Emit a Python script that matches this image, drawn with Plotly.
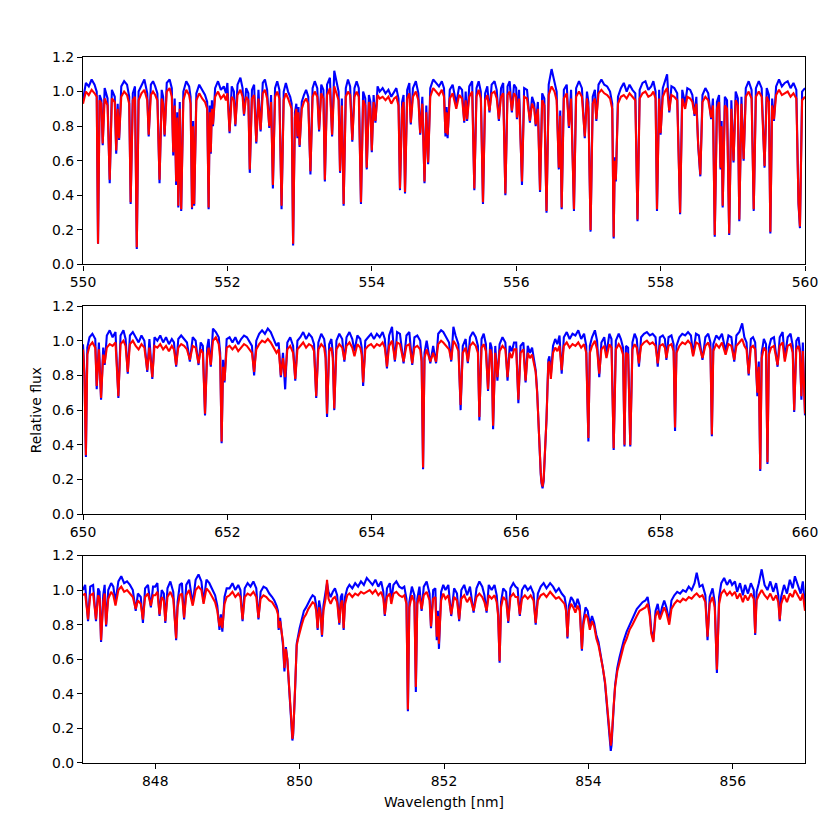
import plotly.graph_objects as go
from plotly.subplots import make_subplots

# ---- panel 1: 550-560 nm ----
wave_top = [
    550.00, 550.04, 550.08, 550.12, 550.16, 550.19, 550.208, 550.23, 550.255, 550.273, 550.30, 550.34, 550.37, 550.40, 550.44, 550.46, 550.48, 550.50, 550.53, 550.57, 550.61, 550.64, 550.66, 550.69, 550.72, 550.745, 550.77, 550.81, 550.85, 550.89, 550.91, 550.94, 550.97,
    551.00, 551.03, 551.06, 551.09, 551.11, 551.13, 551.16, 551.20, 551.23, 551.25, 551.27, 551.29, 551.305, 551.32, 551.34, 551.36, 551.39, 551.43, 551.47, 551.49, 551.51, 551.525, 551.54, 551.57, 551.61, 551.65, 551.69, 551.72, 551.74, 551.755, 551.77, 551.785, 551.80, 551.83, 551.87, 551.91, 551.95, 551.98,
    552.00, 552.03, 552.06, 552.09, 552.11, 552.14, 552.18, 552.21, 552.23, 552.26, 552.29, 552.31, 552.34, 552.37, 552.40, 552.43, 552.46, 552.49, 552.52, 552.55, 552.58, 552.605, 552.63, 552.66, 552.69, 552.72, 552.75, 552.78, 552.81, 552.84, 552.87, 552.89, 552.91, 552.935, 552.955, 552.97, 552.985,
    553.00, 553.03, 553.06, 553.09, 553.12, 553.15, 553.18, 553.21, 553.245, 553.27, 553.30, 553.33, 553.35, 553.38, 553.42, 553.45, 553.48, 553.51, 553.54, 553.56, 553.585, 553.61, 553.64, 553.67, 553.70, 553.73, 553.76, 553.79, 553.82, 553.85, 553.88, 553.91, 553.93, 553.96, 553.98,
    554.00, 554.025, 554.05, 554.08, 554.11, 554.15, 554.19, 554.23, 554.27, 554.31, 554.34, 554.37, 554.39, 554.42, 554.44, 554.46, 554.49, 554.52, 554.54, 554.57, 554.61, 554.645, 554.67, 554.70, 554.73, 554.755, 554.78, 554.81, 554.85, 554.89, 554.93, 554.97,
    555.00, 555.02, 555.035, 555.05, 555.08, 555.12, 555.17, 555.21, 555.25, 555.28, 555.30, 555.32, 555.35, 555.39, 555.42, 555.45, 555.48, 555.51, 555.54, 555.57, 555.60, 555.63, 555.66, 555.70, 555.73, 555.76, 555.79, 555.82, 555.85, 555.88, 555.91, 555.94, 555.97,
    556.00, 556.01, 556.04, 556.08, 556.11, 556.15, 556.19, 556.22, 556.25, 556.27, 556.30, 556.33, 556.36, 556.39, 556.42, 556.45, 556.49, 556.53, 556.56, 556.59, 556.61, 556.63, 556.66, 556.70, 556.73, 556.76, 556.80, 556.83, 556.87, 556.91, 556.95, 556.98,
    557.00, 557.03, 557.06, 557.09, 557.11, 557.14, 557.18, 557.22, 557.26, 557.30, 557.33, 557.35, 557.365, 557.38, 557.41, 557.45, 557.49, 557.53, 557.57, 557.61, 557.65, 557.68, 557.71, 557.75, 557.79, 557.83, 557.87, 557.90, 557.93, 557.95, 557.98,
    558.00, 558.03, 558.06, 558.09, 558.12, 558.15, 558.19, 558.23, 558.27, 558.30, 558.34, 558.37, 558.41, 558.44, 558.47, 558.495, 558.52, 558.55, 558.58, 558.62, 558.66, 558.70, 558.725, 558.75, 558.78, 558.81, 558.83, 558.845, 558.86, 558.89, 558.92, 558.95, 558.98,
    559.01, 559.04, 559.07, 559.09, 559.12, 559.15, 559.18, 559.22, 559.26, 559.29, 559.32, 559.36, 559.40, 559.44, 559.47, 559.50, 559.52, 559.545, 559.57, 559.60, 559.64, 559.68, 559.72, 559.76, 559.80, 559.84, 559.88, 559.91, 559.93, 559.96, 560.00,
]
model_top = [
    0.93, 1.00, 0.98, 1.01, 0.99, 0.97, 0.12, 0.95, 0.93, 0.70, 0.96, 0.92, 0.49, 0.96, 0.94, 0.66, 0.90, 0.73, 0.97, 1.00, 0.98, 0.93, 0.36, 0.95, 0.97, 0.10, 0.95, 0.99, 1.01, 0.95, 0.75, 0.98, 1.00,
    0.98, 0.95, 0.49, 0.96, 0.93, 0.75, 1.00, 1.02, 0.97, 0.65, 0.92, 0.48, 0.85, 0.34, 0.90, 0.32, 0.95, 1.01, 0.98, 0.93, 0.33, 0.80, 0.35, 0.95, 0.99, 0.96, 0.94, 0.90, 0.33, 0.88, 0.65, 0.90, 0.81, 0.97, 1.00, 0.96, 0.98, 0.95,
    0.99, 0.77, 0.97, 0.95, 0.81, 0.98, 1.01, 0.97, 0.87, 0.97, 0.95, 0.55, 0.96, 0.98, 0.71, 0.96, 0.78, 0.99, 1.01, 0.96, 0.80, 0.94, 0.46, 0.97, 1.00, 0.96, 0.34, 0.95, 0.99, 0.96, 0.93, 0.90, 0.12, 0.85, 0.90, 0.74, 0.88,
    0.69, 0.90, 0.94, 0.96, 0.93, 0.54, 0.97, 1.00, 0.97, 0.78, 0.99, 0.96, 0.49, 0.98, 1.02, 0.75, 1.03, 0.99, 0.95, 0.54, 0.92, 0.35, 0.97, 1.00, 0.98, 0.72, 0.97, 1.00, 0.97, 0.36, 0.95, 0.92, 0.56, 0.94, 0.90,
    0.66, 0.94, 0.83, 0.98, 0.96, 0.97, 0.95, 0.97, 0.93, 0.96, 0.97, 0.92, 0.44, 0.90, 0.94, 0.42, 0.96, 0.99, 0.82, 0.97, 1.00, 0.95, 0.76, 0.93, 0.48, 0.88, 0.59, 0.97, 1.02, 1.00, 0.98, 1.01,
    0.97, 0.76, 0.88, 0.75, 0.96, 0.99, 0.90, 0.98, 0.96, 0.83, 0.95, 0.84, 0.97, 1.00, 0.44, 0.97, 1.01, 0.96, 0.36, 0.95, 0.98, 0.89, 0.99, 1.00, 0.96, 0.84, 0.97, 0.99, 0.41, 0.98, 1.00, 0.89, 0.99,
    0.97, 0.85, 0.96, 0.48, 0.97, 0.96, 0.83, 0.93, 0.90, 0.81, 0.90, 0.43, 0.95, 0.92, 0.31, 0.98, 1.03, 1.00, 0.95, 0.56, 0.86, 0.33, 0.96, 0.99, 0.80, 0.96, 0.32, 0.97, 1.00, 0.97, 0.74, 0.96,
    0.90, 0.20, 0.93, 0.96, 0.84, 0.99, 1.01, 0.99, 0.98, 0.96, 0.90, 0.16, 0.60, 0.49, 0.93, 0.97, 0.98, 0.96, 0.99, 0.97, 0.95, 0.26, 0.96, 0.99, 1.00, 0.97, 0.98, 1.00, 0.96, 0.32, 0.96,
    0.76, 0.97, 1.00, 1.02, 0.89, 0.98, 0.97, 0.95, 0.30, 0.96, 0.90, 0.97, 0.96, 0.94, 0.87, 0.93, 0.70, 0.52, 0.94, 0.97, 0.95, 0.85, 0.92, 0.17, 0.90, 0.94, 0.56, 0.80, 0.34, 0.92, 0.90, 0.18, 0.90,
    0.60, 0.95, 0.92, 0.26, 0.93, 0.61, 0.97, 1.00, 0.96, 0.32, 0.97, 1.00, 0.97, 0.57, 0.97, 0.94, 0.19, 0.92, 0.84, 0.98, 1.01, 0.98, 0.99, 1.00, 0.97, 0.99, 0.96, 0.36, 0.22, 0.95, 0.97,
]
obs_top = [
    0.95, 1.05, 1.03, 1.07, 1.04, 1.00, 0.12, 0.98, 0.95, 0.69, 1.02, 0.96, 0.47, 1.01, 0.97, 0.64, 0.93, 0.72, 1.03, 1.06, 1.04, 0.97, 0.35, 0.99, 1.03, 0.09, 1.00, 1.04, 1.07, 0.99, 0.74, 1.04, 1.06,
    1.03, 0.99, 0.47, 1.01, 0.97, 0.74, 1.05, 1.07, 1.02, 0.63, 0.96, 0.46, 0.88, 0.33, 0.94, 0.31, 1.00, 1.06, 1.03, 0.97, 0.32, 0.83, 0.34, 0.99, 1.04, 1.01, 0.98, 0.94, 0.32, 0.92, 0.64, 0.95, 0.80, 1.02, 1.06, 1.01, 1.03, 0.99,
    1.05, 0.76, 1.03, 1.00, 0.80, 1.04, 1.08, 1.02, 0.86, 1.02, 0.99, 0.53, 1.01, 1.04, 0.70, 1.01, 0.77, 1.05, 1.07, 1.01, 0.79, 0.98, 0.44, 1.02, 1.06, 1.01, 0.32, 1.00, 1.05, 1.00, 0.97, 0.93, 0.11, 0.88, 0.93, 0.73, 0.91,
    0.68, 0.94, 0.98, 1.01, 0.97, 0.52, 1.02, 1.06, 1.02, 0.77, 1.04, 1.01, 0.48, 1.04, 1.08, 0.74, 1.12, 1.05, 1.00, 0.53, 0.96, 0.34, 1.02, 1.07, 1.03, 0.71, 1.02, 1.06, 1.02, 0.35, 1.00, 0.96, 0.55, 0.98, 0.94,
    0.65, 0.98, 0.82, 1.03, 1.00, 1.02, 0.99, 1.01, 0.97, 1.00, 1.02, 0.96, 0.43, 0.94, 0.98, 0.41, 1.01, 1.05, 0.81, 1.02, 1.06, 0.99, 0.75, 0.97, 0.47, 0.92, 0.58, 1.02, 1.07, 1.05, 1.03, 1.06,
    1.02, 0.74, 0.91, 0.73, 1.01, 1.04, 0.93, 1.03, 1.01, 0.82, 1.00, 0.83, 1.03, 1.06, 0.43, 1.02, 1.06, 1.00, 0.35, 0.99, 1.03, 0.88, 1.04, 1.06, 1.01, 0.83, 1.02, 1.05, 0.40, 1.03, 1.06, 0.88, 1.04,
    1.02, 0.84, 1.01, 0.46, 1.02, 1.01, 0.82, 0.97, 0.93, 0.80, 0.94, 0.42, 0.99, 0.96, 0.30, 1.04, 1.13, 1.06, 1.00, 0.55, 0.89, 0.32, 1.01, 1.04, 0.79, 1.01, 0.31, 1.02, 1.06, 1.02, 0.73, 1.00,
    0.94, 0.19, 0.97, 1.01, 0.83, 1.04, 1.07, 1.04, 1.03, 1.00, 0.93, 0.15, 0.62, 0.48, 0.97, 1.02, 1.05, 1.00, 1.04, 1.01, 0.99, 0.25, 1.01, 1.05, 1.06, 1.01, 1.03, 1.06, 1.00, 0.31, 1.01,
    0.75, 1.02, 1.06, 1.10, 0.88, 1.03, 1.02, 0.99, 0.29, 1.01, 0.93, 1.02, 1.01, 0.98, 0.86, 0.97, 0.69, 0.51, 0.98, 1.02, 0.99, 0.84, 0.96, 0.16, 0.94, 0.98, 0.55, 0.83, 0.33, 0.97, 0.95, 0.17, 0.95,
    0.59, 1.00, 0.96, 0.25, 0.97, 0.60, 1.02, 1.06, 1.01, 0.31, 1.02, 1.06, 1.02, 0.56, 1.02, 0.98, 0.18, 0.96, 0.83, 1.03, 1.07, 1.03, 1.05, 1.06, 1.02, 1.05, 1.01, 0.35, 0.21, 1.00, 1.02,
]

# ---- panel 2: 650-660 nm (H-alpha) ----
wave_mid = [
    650.00, 650.02, 650.04, 650.06, 650.09, 650.13, 650.17, 650.19, 650.22, 650.25, 650.28, 650.30, 650.33, 650.37, 650.41, 650.45, 650.49, 650.52, 650.56, 650.59, 650.62, 650.65, 650.69, 650.73, 650.77, 650.81, 650.85, 650.89, 650.92, 650.96, 650.99,
    651.03, 651.07, 651.11, 651.15, 651.19, 651.23, 651.26, 651.29, 651.32, 651.36, 651.40, 651.44, 651.48, 651.52, 651.56, 651.60, 651.63, 651.66, 651.69, 651.72, 651.74, 651.77, 651.80, 651.84, 651.88, 651.90, 651.92, 651.94, 651.96, 651.99,
    652.03, 652.07, 652.11, 652.15, 652.19, 652.23, 652.27, 652.31, 652.34, 652.37, 652.40, 652.44, 652.48, 652.52, 652.56, 652.60, 652.64, 652.68, 652.71, 652.74, 652.77, 652.80, 652.83, 652.87, 652.91, 652.94, 652.97,
    653.01, 653.05, 653.09, 653.13, 653.17, 653.20, 653.23, 653.26, 653.30, 653.34, 653.36, 653.38, 653.41, 653.44, 653.46, 653.48, 653.51, 653.55, 653.59, 653.62, 653.65, 653.69, 653.73, 653.76, 653.80, 653.84, 653.86, 653.88, 653.91, 653.95, 653.99,
    654.03, 654.07, 654.11, 654.15, 654.18, 654.21, 654.24, 654.28, 654.32, 654.35, 654.39, 654.44, 654.48, 654.52, 654.56, 654.59, 654.63, 654.67, 654.69, 654.71, 654.73, 654.76, 654.81, 654.85, 654.89, 654.92, 654.96, 654.99,
    655.03, 655.07, 655.10, 655.13, 655.16, 655.20, 655.23, 655.26, 655.30, 655.33, 655.36, 655.40, 655.44, 655.47, 655.49, 655.52, 655.55, 655.58, 655.61, 655.64, 655.66, 655.68, 655.71, 655.74, 655.77, 655.81, 655.85, 655.88, 655.91, 655.94, 655.97,
    656.00, 656.03, 656.06, 656.10, 656.13, 656.16, 656.19, 656.22, 656.25, 656.27, 656.29, 656.30, 656.315, 656.325, 656.34, 656.35, 656.365, 656.38, 656.39, 656.405, 656.42, 656.43, 656.445, 656.46, 656.48, 656.51, 656.54, 656.57, 656.60, 656.63, 656.66, 656.70, 656.74, 656.78, 656.82, 656.86, 656.90, 656.94, 656.97, 657.00,
    657.02, 657.05, 657.09, 657.12, 657.15, 657.18, 657.22, 657.25, 657.29, 657.32, 657.35, 657.38, 657.42, 657.45, 657.48, 657.50, 657.52, 657.55, 657.58, 657.61, 657.64, 657.67, 657.70, 657.73, 657.77, 657.81, 657.85, 657.89, 657.93, 657.96, 657.99,
    658.03, 658.06, 658.08, 658.11, 658.15, 658.18, 658.20, 658.22, 658.26, 658.30, 658.34, 658.38, 658.42, 658.45, 658.49, 658.53, 658.58, 658.62, 658.66, 658.69, 658.71, 658.73, 658.77, 658.81, 658.85, 658.90, 658.94, 658.98,
    659.02, 659.05, 659.09, 659.13, 659.16, 659.19, 659.22, 659.25, 659.28, 659.31, 659.34, 659.36, 659.38, 659.40, 659.43, 659.46, 659.48, 659.50, 659.53, 659.57, 659.62, 659.65, 659.69, 659.72, 659.76, 659.80, 659.83, 659.85, 659.88, 659.91, 659.93, 659.95, 659.97, 660.00,
]
model_mid = [
    0.95, 0.80, 0.34, 0.92, 0.97, 0.99, 0.96, 0.74, 0.95, 0.67, 0.92, 0.87, 0.96, 0.98, 0.97, 0.99, 0.68, 0.98, 1.00, 0.97, 0.82, 0.98, 1.00, 0.97, 0.95, 0.98, 0.96, 0.83, 0.96, 0.79, 0.97,
    0.96, 0.98, 0.95, 0.97, 0.94, 0.97, 0.95, 0.86, 0.96, 0.98, 0.97, 0.95, 0.89, 0.97, 0.96, 0.87, 0.95, 0.93, 0.58, 0.92, 0.96, 0.86, 1.00, 1.02, 0.98, 0.90, 0.42, 0.85, 0.77, 0.96,
    0.97, 0.95, 0.97, 0.94, 0.96, 0.98, 0.97, 0.95, 0.93, 0.82, 0.95, 0.98, 1.00, 0.99, 1.01, 0.99, 0.96, 0.93, 0.95, 0.80, 0.90, 0.79, 0.95, 0.97, 0.93, 0.78, 0.95,
    0.97, 0.99, 0.96, 0.98, 0.97, 0.94, 0.68, 0.95, 0.98, 0.96, 0.90, 0.58, 0.94, 0.96, 0.90, 0.61, 0.95, 0.98, 0.96, 0.89, 0.97, 0.99, 0.96, 0.91, 0.98, 0.96, 0.92, 0.76, 0.95, 0.97, 0.98,
    0.96, 0.98, 0.97, 0.99, 0.96, 0.85, 0.97, 1.00, 0.89, 0.99, 0.98, 0.88, 0.97, 0.98, 0.87, 0.96, 0.97, 0.95, 0.88, 0.27, 0.90, 0.95, 0.88, 0.93, 0.88, 0.98, 1.00, 0.99,
    0.97, 0.95, 0.89, 1.00, 0.98, 0.94, 0.63, 0.93, 0.96, 0.88, 0.97, 0.99, 0.97, 0.93, 0.56, 0.96, 0.98, 0.94, 0.72, 0.95, 0.92, 0.51, 0.93, 0.79, 0.94, 0.97, 0.95, 0.79, 0.93, 0.90, 0.95,
    0.95, 0.66, 0.93, 0.95, 0.77, 0.93, 0.90, 0.92, 0.86, 0.82, 0.70, 0.59, 0.45, 0.33, 0.24, 0.19, 0.16, 0.20, 0.28, 0.39, 0.55, 0.68, 0.87, 0.88, 0.78, 0.93, 0.96, 0.94, 0.97, 0.83, 0.97, 0.99, 0.96, 0.98, 0.97, 0.99, 0.96, 0.98, 0.93, 0.44,
    0.93, 0.97, 1.00, 0.95, 0.81, 0.95, 0.97, 0.90, 0.98, 0.96, 0.38, 0.95, 0.98, 0.96, 0.92, 0.40, 0.93, 0.92, 0.40, 0.95, 0.98, 0.96, 0.87, 0.97, 0.99, 1.00, 0.98, 0.99, 0.97, 0.87, 0.97,
    0.98, 0.96, 0.90, 0.97, 0.98, 0.94, 0.50, 0.93, 0.97, 0.99, 0.98, 1.00, 0.98, 0.91, 0.99, 0.98, 0.90, 0.97, 0.99, 0.95, 0.46, 0.94, 0.98, 0.96, 0.99, 0.92, 0.98, 0.97,
    0.89, 0.97, 0.99, 1.01, 0.97, 0.95, 0.81, 0.96, 0.97, 0.95, 0.70, 0.85, 0.26, 0.90, 0.96, 0.94, 0.30, 0.92, 0.96, 0.97, 0.86, 0.97, 0.99, 0.88, 0.97, 0.98, 0.93, 0.60, 0.95, 0.97, 0.93, 0.68, 0.94, 0.58,
]
obs_mid = [
    0.98, 0.82, 0.33, 0.96, 1.02, 1.04, 1.01, 0.72, 0.99, 0.66, 0.96, 0.86, 1.03, 1.06, 1.02, 1.05, 0.67, 1.03, 1.06, 1.01, 0.81, 1.03, 1.05, 1.02, 0.99, 1.03, 1.00, 0.82, 1.01, 0.78, 1.02,
    1.00, 1.03, 0.99, 1.02, 0.98, 1.01, 0.99, 0.85, 1.01, 1.03, 1.01, 0.99, 0.88, 1.02, 1.00, 0.86, 0.99, 0.97, 0.57, 0.96, 1.01, 0.85, 1.07, 1.05, 1.02, 0.93, 0.41, 0.89, 0.76, 1.01,
    1.02, 0.99, 1.02, 0.98, 1.01, 1.03, 1.02, 0.99, 0.97, 0.80, 1.00, 1.04, 1.06, 1.04, 1.07, 1.05, 1.01, 0.97, 0.99, 0.79, 0.93, 0.72, 0.99, 1.02, 0.97, 0.77, 1.00,
    1.02, 1.05, 1.01, 1.04, 1.02, 0.98, 0.67, 0.99, 1.04, 1.01, 0.94, 0.56, 0.98, 1.01, 0.93, 0.60, 1.00, 1.04, 1.01, 0.88, 1.02, 1.05, 1.01, 0.94, 1.03, 1.01, 0.96, 0.74, 1.00, 1.02, 1.04,
    1.01, 1.04, 1.02, 1.05, 1.01, 0.84, 1.03, 1.08, 0.88, 1.05, 1.04, 0.87, 1.03, 1.05, 0.86, 1.02, 1.03, 1.00, 0.90, 0.26, 0.93, 1.00, 0.87, 0.97, 0.87, 1.04, 1.06, 1.05,
    1.02, 0.99, 0.88, 1.08, 1.03, 0.98, 0.60, 0.97, 1.01, 0.87, 1.02, 1.05, 1.02, 0.97, 0.54, 1.01, 1.04, 0.98, 0.71, 0.99, 0.96, 0.49, 0.97, 0.77, 0.98, 1.02, 0.99, 0.77, 0.97, 0.94, 0.99,
    0.99, 0.64, 0.97, 0.99, 0.76, 0.97, 0.93, 0.96, 0.87, 0.83, 0.71, 0.59, 0.45, 0.33, 0.23, 0.18, 0.15, 0.19, 0.27, 0.38, 0.55, 0.69, 0.89, 0.91, 0.80, 0.97, 1.01, 0.98, 1.03, 0.81, 1.02, 1.05, 1.01, 1.04, 1.03, 1.06, 1.01, 1.04, 0.97, 0.42,
    0.97, 1.02, 1.06, 1.00, 0.79, 0.99, 1.02, 0.92, 1.04, 1.01, 0.37, 1.00, 1.04, 1.01, 0.96, 0.39, 0.97, 0.96, 0.39, 0.99, 1.04, 1.01, 0.85, 1.02, 1.04, 1.05, 1.03, 1.04, 1.02, 0.85, 1.02,
    1.03, 1.01, 0.89, 1.02, 1.03, 0.98, 0.48, 0.97, 1.02, 1.04, 1.03, 1.05, 1.03, 0.92, 1.04, 1.03, 0.89, 1.02, 1.04, 0.99, 0.45, 0.98, 1.03, 1.01, 1.04, 0.94, 1.03, 1.02,
    0.88, 1.03, 1.05, 1.10, 1.02, 0.99, 0.80, 1.01, 1.02, 0.99, 0.68, 0.88, 0.25, 0.93, 1.01, 0.98, 0.29, 0.96, 1.01, 1.02, 0.85, 1.02, 1.05, 0.90, 1.02, 1.04, 0.97, 0.59, 1.00, 1.02, 0.95, 0.66, 0.99, 0.57,
]

# ---- panel 3: 847-857 nm (Ca II triplet) ----
wave_bot = [
    847.00, 847.03, 847.07, 847.10, 847.14, 847.18, 847.21, 847.23, 847.25, 847.28, 847.30, 847.32, 847.35, 847.39, 847.42, 847.45, 847.49, 847.53, 847.57, 847.61, 847.65, 847.69, 847.73, 847.76, 847.80, 847.83, 847.86, 847.90, 847.94, 847.97,
    848.00, 848.03, 848.06, 848.09, 848.12, 848.14, 848.17, 848.21, 848.25, 848.27, 848.29, 848.31, 848.34, 848.37, 848.40, 848.43, 848.47, 848.52, 848.56, 848.60, 848.64, 848.67, 848.71, 848.75, 848.79, 848.83, 848.86, 848.89, 848.91, 848.93, 848.96, 848.99,
    849.03, 849.07, 849.11, 849.15, 849.18, 849.21, 849.24, 849.28, 849.32, 849.36, 849.40, 849.43, 849.46, 849.50, 849.54, 849.58, 849.62, 849.65, 849.68, 849.70, 849.71, 849.73, 849.75, 849.77, 849.79, 849.81, 849.83, 849.845, 849.86, 849.875, 849.89, 849.90, 849.91, 849.925, 849.94, 849.96, 849.98,
    850.00, 850.03, 850.06, 850.09, 850.12, 850.15, 850.18, 850.21, 850.23, 850.25, 850.27, 850.29, 850.31, 850.33, 850.36, 850.38, 850.40, 850.43, 850.46, 850.49, 850.52, 850.55, 850.57, 850.59, 850.61, 850.63, 850.66, 850.69, 850.73, 850.77, 850.81, 850.85, 850.89, 850.93, 850.97,
    851.01, 851.05, 851.09, 851.13, 851.16, 851.18, 851.21, 851.25, 851.27, 851.30, 851.34, 851.38, 851.42, 851.45, 851.48, 851.50, 851.52, 851.555, 851.59, 851.61, 851.63, 851.66, 851.69, 851.72, 851.76, 851.80, 851.82, 851.85, 851.88, 851.90, 851.915, 851.93, 851.96, 851.99,
    852.02, 852.06, 852.10, 852.14, 852.18, 852.21, 852.24, 852.28, 852.32, 852.36, 852.41, 852.45, 852.49, 852.53, 852.56, 852.59, 852.62, 852.66, 852.70, 852.73, 852.75, 852.77, 852.79, 852.82, 852.86, 852.89, 852.92, 852.96, 852.99,
    853.02, 853.05, 853.08, 853.12, 853.16, 853.20, 853.24, 853.27, 853.30, 853.34, 853.38, 853.42, 853.47, 853.51, 853.55, 853.59, 853.63, 853.67, 853.69, 853.71, 853.73, 853.76, 853.79, 853.82, 853.85, 853.88, 853.91, 853.93, 853.96, 853.99,
    854.02, 854.05, 854.08, 854.11, 854.14, 854.17, 854.20, 854.23, 854.25, 854.27, 854.29, 854.30, 854.31, 854.32, 854.33, 854.35, 854.37, 854.40, 854.43, 854.46, 854.49, 854.53, 854.57, 854.61, 854.64, 854.67, 854.71, 854.75, 854.79, 854.82, 854.85, 854.87, 854.90, 854.93, 854.96, 854.99,
    855.02, 855.05, 855.08, 855.12, 855.15, 855.19, 855.23, 855.27, 855.31, 855.35, 855.39, 855.43, 855.47, 855.50, 855.54, 855.58, 855.62, 855.65, 855.68, 855.72, 855.75, 855.78, 855.81, 855.84, 855.88, 855.92, 855.96, 855.99,
    856.03, 856.06, 856.10, 856.14, 856.17, 856.21, 856.25, 856.29, 856.31, 856.33, 856.36, 856.40, 856.44, 856.48, 856.52, 856.56, 856.60, 856.63, 856.65, 856.67, 856.71, 856.75, 856.79, 856.83, 856.86, 856.90, 856.94, 856.97, 857.00,
]
model_bot = [
    0.97, 0.98, 0.83, 0.97, 0.98, 0.83, 0.97, 0.95, 0.71, 0.93, 0.98, 0.80, 0.95, 0.99, 0.97, 0.91, 1.00, 1.02, 0.99, 1.00, 0.98, 0.96, 0.89, 0.94, 0.92, 0.83, 0.96, 0.98, 0.91, 0.97,
    0.97, 0.99, 0.86, 0.96, 0.94, 0.82, 0.96, 0.99, 0.95, 0.85, 0.72, 0.90, 0.97, 0.98, 0.84, 0.97, 1.00, 0.91, 1.00, 1.02, 1.00, 0.92, 1.01, 0.99, 0.96, 0.93, 0.88, 0.79, 0.84, 0.78, 0.92, 0.96,
    0.97, 0.99, 0.96, 0.98, 0.96, 0.83, 0.96, 0.98, 0.97, 0.99, 0.96, 0.84, 0.95, 0.97, 0.96, 0.94, 0.93, 0.91, 0.89, 0.86, 0.78, 0.82, 0.77, 0.70, 0.55, 0.66, 0.60, 0.51, 0.45, 0.35, 0.22, 0.14, 0.17, 0.30, 0.45, 0.68, 0.72,
    0.76, 0.80, 0.84, 0.86, 0.89, 0.91, 0.93, 0.92, 0.88, 0.78, 0.90, 0.86, 0.74, 0.88, 0.95, 1.06, 0.95, 0.92, 0.95, 0.96, 0.93, 0.81, 0.92, 0.94, 0.78, 0.92, 0.97, 0.98, 0.96, 0.98, 0.97, 0.99, 0.98, 0.99, 1.00,
    0.98, 1.00, 0.97, 0.99, 0.95, 0.86, 0.96, 0.98, 0.92, 0.98, 0.99, 0.97, 0.96, 0.97, 0.92, 0.31, 0.90, 0.97, 0.93, 0.44, 0.92, 0.97, 0.89, 0.97, 0.99, 0.94, 0.79, 0.95, 0.96, 0.73, 0.85, 0.69, 0.94, 0.98,
    0.95, 0.97, 0.86, 0.96, 0.94, 0.83, 0.95, 0.97, 0.93, 0.96, 0.88, 0.96, 0.98, 0.96, 0.93, 0.88, 0.97, 0.95, 0.97, 0.93, 0.85, 0.59, 0.90, 0.96, 0.94, 0.82, 0.96, 0.98, 0.96,
    0.96, 0.86, 0.95, 0.97, 0.95, 0.97, 0.94, 0.81, 0.94, 0.97, 0.98, 0.96, 0.99, 0.97, 0.95, 0.96, 0.94, 0.92, 0.88, 0.73, 0.88, 0.92, 0.90, 0.87, 0.91, 0.88, 0.66, 0.80, 0.86, 0.84,
    0.77, 0.82, 0.79, 0.72, 0.68, 0.62, 0.55, 0.47, 0.37, 0.28, 0.18, 0.12, 0.10, 0.13, 0.21, 0.33, 0.44, 0.53, 0.58, 0.64, 0.68, 0.72, 0.77, 0.80, 0.83, 0.85, 0.88, 0.89, 0.90, 0.92, 0.85, 0.75, 0.70, 0.85, 0.88, 0.83,
    0.86, 0.90, 0.87, 0.80, 0.89, 0.92, 0.94, 0.93, 0.95, 0.94, 0.96, 0.95, 0.97, 0.98, 0.96, 0.97, 0.93, 0.73, 0.92, 0.96, 0.90, 0.54, 0.92, 0.98, 1.00, 0.97, 0.99, 0.97,
    0.99, 0.95, 0.98, 0.93, 0.97, 0.94, 0.98, 0.95, 0.75, 0.94, 0.97, 1.00, 0.97, 0.95, 0.98, 0.94, 0.97, 0.93, 0.83, 0.92, 0.97, 0.93, 0.98, 0.96, 1.00, 0.97, 0.94, 0.98, 0.88,
]
obs_bot = [
    1.00, 1.03, 0.82, 1.02, 1.03, 0.82, 1.01, 0.99, 0.70, 0.97, 1.03, 0.79, 1.00, 1.04, 1.02, 0.93, 1.05, 1.08, 1.04, 1.05, 1.03, 1.00, 0.88, 0.98, 0.96, 0.81, 1.01, 1.03, 0.90, 1.02,
    1.02, 1.04, 0.85, 1.00, 0.98, 0.81, 1.01, 1.05, 0.99, 0.86, 0.71, 0.93, 1.03, 1.04, 0.83, 1.03, 1.06, 0.92, 1.06, 1.09, 1.05, 0.93, 1.06, 1.04, 1.00, 0.97, 0.91, 0.77, 0.86, 0.76, 0.96, 1.01,
    1.01, 1.04, 1.00, 1.03, 1.00, 0.82, 1.01, 1.04, 1.02, 1.05, 1.01, 0.83, 0.99, 1.02, 1.01, 0.98, 0.96, 0.94, 0.91, 0.88, 0.77, 0.84, 0.76, 0.68, 0.53, 0.67, 0.60, 0.50, 0.44, 0.34, 0.21, 0.13, 0.16, 0.29, 0.45, 0.69, 0.74,
    0.78, 0.83, 0.88, 0.90, 0.93, 0.95, 0.97, 0.96, 0.91, 0.77, 0.94, 0.89, 0.73, 0.91, 0.99, 1.04, 0.99, 0.96, 0.99, 1.01, 0.97, 0.80, 0.96, 0.98, 0.77, 0.96, 1.01, 1.03, 1.01, 1.04, 1.02, 1.05, 1.03, 1.07, 1.05,
    1.03, 1.06, 1.02, 1.05, 0.99, 0.85, 1.01, 1.04, 0.94, 1.03, 1.05, 1.02, 1.01, 1.02, 0.95, 0.30, 0.93, 1.02, 0.97, 0.41, 0.95, 1.02, 0.88, 1.02, 1.05, 0.98, 0.78, 1.00, 1.01, 0.71, 0.88, 0.66, 0.99, 1.03,
    1.00, 1.03, 0.85, 1.01, 0.98, 0.82, 1.00, 1.03, 0.97, 1.02, 0.87, 1.01, 1.05, 1.02, 0.97, 0.87, 1.03, 1.00, 1.03, 0.97, 0.86, 0.58, 0.93, 1.01, 0.99, 0.81, 1.01, 1.04, 1.02,
    1.01, 0.85, 1.00, 1.03, 1.00, 1.02, 0.98, 0.80, 0.98, 1.02, 1.04, 1.01, 1.04, 1.02, 0.99, 1.01, 0.98, 0.96, 0.91, 0.72, 0.91, 0.96, 0.94, 0.90, 0.95, 0.91, 0.65, 0.82, 0.90, 0.88,
    0.80, 0.85, 0.81, 0.74, 0.70, 0.63, 0.55, 0.46, 0.36, 0.26, 0.16, 0.09, 0.07, 0.10, 0.19, 0.32, 0.45, 0.55, 0.61, 0.67, 0.71, 0.76, 0.80, 0.84, 0.86, 0.89, 0.91, 0.93, 0.94, 0.96, 0.88, 0.77, 0.71, 0.88, 0.92, 0.84,
    0.90, 0.94, 0.90, 0.82, 0.94, 0.97, 0.99, 0.98, 1.00, 0.99, 1.02, 1.00, 1.04, 1.10, 1.02, 1.03, 0.97, 0.71, 0.96, 1.01, 0.93, 0.52, 0.96, 1.04, 1.07, 1.03, 1.06, 1.03,
    1.05, 0.99, 1.04, 0.97, 1.03, 0.98, 1.04, 1.00, 0.74, 0.99, 1.04, 1.12, 1.03, 1.00, 1.05, 0.99, 1.04, 0.97, 0.82, 0.96, 1.03, 0.98, 1.06, 1.01, 1.08, 1.03, 0.98, 1.05, 0.90,
]

x_ranges = [[550, 560], [650, 660], [847, 857]]
y_ticks = [0.0, 0.2, 0.4, 0.6, 0.8, 1.0, 1.2]

panels = [
    (wave_top, model_top, obs_top),
    (wave_mid, model_mid, obs_mid),
    (wave_bot, model_bot, obs_bot),
]
for w, m, o in panels:
    assert len(w) == len(m) == len(o), (len(w), len(m), len(o))

fig = make_subplots(rows=3, cols=1)

for i, (w, m, o) in enumerate(panels, start=1):
    # observed spectrum underneath, model on top
    fig.add_trace(go.Scatter(x=w, y=o, mode="lines",
                             line=dict(color="blue", width=2.1),
                             showlegend=False, hoverinfo="skip"), row=i, col=1)
    fig.add_trace(go.Scatter(x=w, y=m, mode="lines",
                             line=dict(color="red", width=2.1),
                             showlegend=False, hoverinfo="skip"), row=i, col=1)

# panel positions (fractions of plot area)
y_domains = [[0.7061, 1.0], [0.3523, 0.6473], [0.0, 0.2939]]

tick_font = dict(family="DejaVu Sans", size=13.9, color="black")
axis_style = dict(
    showline=True, linecolor="black", linewidth=1.1, mirror=True,
    ticks="outside", ticklen=5, tickwidth=1.1, tickcolor="black",
    showgrid=False, zeroline=False, tickfont=tick_font,
)

for i in range(3):
    fig.update_xaxes(range=x_ranges[i], dtick=2, tick0=0,
                     row=i + 1, col=1, **axis_style)
    fig.update_yaxes(range=[0, 1.2], tickvals=y_ticks, tickformat=".1f",
                     domain=y_domains[i], row=i + 1, col=1, **axis_style)

fig.update_xaxes(title=dict(text="Wavelength [nm]", standoff=9, font=tick_font),
                 row=3, col=1)
fig.update_yaxes(title=dict(text="Relative flux", standoff=7, font=tick_font),
                 row=2, col=1)

# the page body adds 8 px, so margins are shifted by that much
fig.update_layout(
    width=830, height=830,
    margin=dict(l=75, r=33, t=49, b=75),
    paper_bgcolor="white", plot_bgcolor="white",
    font=dict(family="DejaVu Sans", size=13.9, color="black"),
)

fig.write_html("out.html")
